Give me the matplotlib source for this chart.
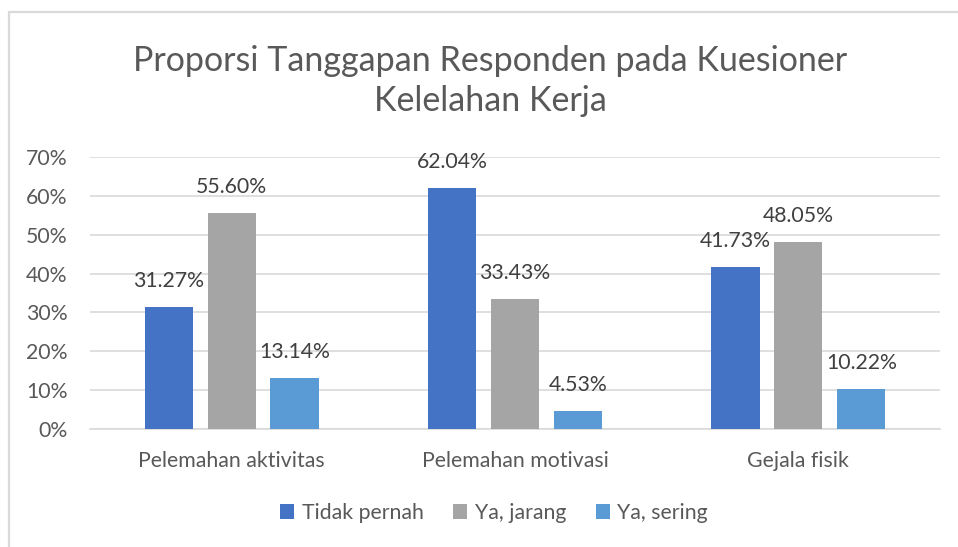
import matplotlib.pyplot as plt
from matplotlib.patches import Rectangle
import numpy as np

categories = ['Pelemahan aktivitas', 'Pelemahan motivasi', 'Gejala fisik']
tidak_pernah = [31.27, 62.04, 41.73]
ya_jarang = [55.60, 33.43, 48.05]
ya_sering = [13.14, 4.53, 10.22]
series_names = ['Tidak pernah', 'Ya, jarang', 'Ya, sering']
colors = ['#4472C4', '#A5A5A5', '#5B9BD5']

plt.rcParams['font.family'] = ['Lato', 'DejaVu Sans']

fig = plt.figure(figsize=(9.58, 5.47), dpi=100)
ax = fig.add_axes([90 / 958, 1 - 429 / 547, 850 / 958, 272 / 547])

# chart frame (clipped at right/bottom like the screenshot)
fig.patches.append(Rectangle((9 / 958, -0.1), 1.2, 1 - 12 / 547 + 0.1,
                             transform=fig.transFigure, fill=False,
                             edgecolor='#d9d9d9', linewidth=1.6))

x = np.arange(len(categories))
width = 0.17
step = 0.222
all_series = [tidak_pernah, ya_jarang, ya_sering]
for i, (vals, name, c) in enumerate(zip(all_series, series_names, colors)):
    pos = x + (i - 1) * step
    bars = ax.bar(pos, [v / 100 for v in vals], width, color=c, label=name, zorder=3)
    for b, v in zip(bars, vals):
        ax.annotate(f'{v:.2f}%', (b.get_x() + b.get_width() / 2, b.get_height()),
                    xytext=(0, 26), textcoords='offset pixels',
                    ha='center', va='center', fontsize=15.3, color='#404040')

ax.set_xlim(-0.5, 2.5)
ax.set_ylim(0, 0.7)
ax.set_yticks(np.arange(0, 0.71, 0.1))
ax.set_yticklabels([f'{int(round(t * 100))}%' for t in np.arange(0, 0.71, 0.1)])
ax.set_xticks(x)
ax.set_xticklabels(categories)
ax.tick_params(axis='both', length=0, labelsize=15.3, labelcolor='#595959')
ax.tick_params(axis='y', pad=16)
ax.tick_params(axis='x', pad=16)
ax.grid(axis='y', color='#d9d9d9', linewidth=1.2, zorder=0)
for s in ['top', 'right', 'left']:
    ax.spines[s].set_visible(False)
ax.spines['bottom'].set_color('#d9d9d9')
ax.spines['bottom'].set_linewidth(1.2)

fig.text(490 / 958, 1 - 81 / 547, 'Proporsi Tanggapan Responden pada Kuesioner\nKelelahan Kerja',
         ha='center', va='center', fontsize=24.5, color='#595959', linespacing=1.3)

fig.legend(loc='center', bbox_to_anchor=(494 / 958, 1 - 513 / 547), ncol=3,
           frameon=False, fontsize=15.3, labelcolor='#595959', handlelength=0.65,
           handleheight=0.65, handletextpad=0.35, columnspacing=1.4)

plt.savefig('out.png', dpi=100)
